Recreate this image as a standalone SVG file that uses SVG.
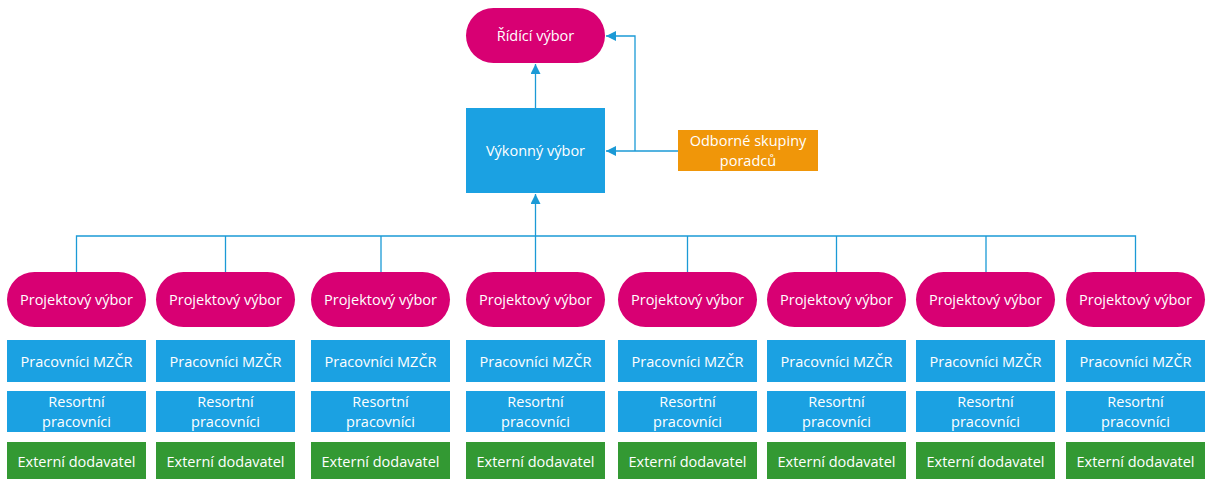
<svg xmlns="http://www.w3.org/2000/svg" width="1208" height="480" viewBox="0 0 1208 480">
<style>
.pill{fill:#D80073}
.blue{fill:#1BA1E2}
.green{fill:#339933}
.orange{fill:#F09609}
text{font-family:"Open Sans","Noto Sans","DejaVu Sans",sans-serif;font-size:14.5px;fill:#fff;text-anchor:middle;dominant-baseline:central}
.conn{stroke:#1B9AD6;stroke-width:1.3;fill:none}
</style>
<defs>
<marker id="arr" viewBox="0 0 10 10" refX="10" refY="5" markerWidth="10" markerHeight="10" markerUnits="userSpaceOnUse" orient="auto">
<path d="M0,0 L10,5 L0,10 Z" fill="#1B9AD6"/>
</marker>
</defs>
<g id="connectors">
<path class="conn" d="M535.5,108 V64" marker-end="url(#arr)"/>
<path class="conn" d="M678,151 H606" marker-end="url(#arr)"/>
<path class="conn" d="M635,151 V36 H606" marker-end="url(#arr)"/>
<path class="conn" d="M535.5,236 V194" marker-end="url(#arr)"/>
<path class="conn" d="M76.5,272 V236 H1135.5 V272"/>
<path class="conn" d="M225.5,236 V272 M381,236 V272 M535.5,236 V272 M687.5,236 V272 M836.5,236 V272 M986,236 V272"/>
</g>
<g id="ridici"><rect class="pill" x="466" y="8" width="139" height="55" rx="27.5"/><text x="535.5" y="35.5">Řídící výbor</text></g>
<g id="vykonny"><rect class="blue" x="466" y="108" width="139" height="85"/><text x="535.5" y="150.5">Výkonný výbor</text></g>
<g id="odborne"><rect class="orange" x="678" y="130" width="140" height="41"/><text x="748" y="140.5">Odborné skupiny</text><text x="748" y="160.5">poradců</text></g>
<g id="col1" transform="translate(7,0)">
<g id="pv1"><rect class="pill" x="0" y="272" width="139" height="55" rx="27.5"/><text x="69.5" y="299.5">Projektový výbor</text></g>
<g id="mz1"><rect class="blue" x="0" y="340" width="139" height="42"/><text x="69.5" y="361">Pracovníci MZČR</text></g>
<g id="rp1"><rect class="blue" x="0" y="391" width="139" height="41"/><text x="69.5" y="401.5">Resortní</text><text x="69.5" y="421.5">pracovníci</text></g>
<g id="ed1"><rect class="green" x="0" y="442" width="139" height="37"/><text x="69.5" y="461">Externí dodavatel</text></g>
</g>
<g id="col2" transform="translate(156,0)">
<g id="pv2"><rect class="pill" x="0" y="272" width="139" height="55" rx="27.5"/><text x="69.5" y="299.5">Projektový výbor</text></g>
<g id="mz2"><rect class="blue" x="0" y="340" width="139" height="42"/><text x="69.5" y="361">Pracovníci MZČR</text></g>
<g id="rp2"><rect class="blue" x="0" y="391" width="139" height="41"/><text x="69.5" y="401.5">Resortní</text><text x="69.5" y="421.5">pracovníci</text></g>
<g id="ed2"><rect class="green" x="0" y="442" width="139" height="37"/><text x="69.5" y="461">Externí dodavatel</text></g>
</g>
<g id="col3" transform="translate(311,0)">
<g id="pv3"><rect class="pill" x="0" y="272" width="139" height="55" rx="27.5"/><text x="69.5" y="299.5">Projektový výbor</text></g>
<g id="mz3"><rect class="blue" x="0" y="340" width="139" height="42"/><text x="69.5" y="361">Pracovníci MZČR</text></g>
<g id="rp3"><rect class="blue" x="0" y="391" width="139" height="41"/><text x="69.5" y="401.5">Resortní</text><text x="69.5" y="421.5">pracovníci</text></g>
<g id="ed3"><rect class="green" x="0" y="442" width="139" height="37"/><text x="69.5" y="461">Externí dodavatel</text></g>
</g>
<g id="col4" transform="translate(466,0)">
<g id="pv4"><rect class="pill" x="0" y="272" width="139" height="55" rx="27.5"/><text x="69.5" y="299.5">Projektový výbor</text></g>
<g id="mz4"><rect class="blue" x="0" y="340" width="139" height="42"/><text x="69.5" y="361">Pracovníci MZČR</text></g>
<g id="rp4"><rect class="blue" x="0" y="391" width="139" height="41"/><text x="69.5" y="401.5">Resortní</text><text x="69.5" y="421.5">pracovníci</text></g>
<g id="ed4"><rect class="green" x="0" y="442" width="139" height="37"/><text x="69.5" y="461">Externí dodavatel</text></g>
</g>
<g id="col5" transform="translate(618,0)">
<g id="pv5"><rect class="pill" x="0" y="272" width="139" height="55" rx="27.5"/><text x="69.5" y="299.5">Projektový výbor</text></g>
<g id="mz5"><rect class="blue" x="0" y="340" width="139" height="42"/><text x="69.5" y="361">Pracovníci MZČR</text></g>
<g id="rp5"><rect class="blue" x="0" y="391" width="139" height="41"/><text x="69.5" y="401.5">Resortní</text><text x="69.5" y="421.5">pracovníci</text></g>
<g id="ed5"><rect class="green" x="0" y="442" width="139" height="37"/><text x="69.5" y="461">Externí dodavatel</text></g>
</g>
<g id="col6" transform="translate(767,0)">
<g id="pv6"><rect class="pill" x="0" y="272" width="139" height="55" rx="27.5"/><text x="69.5" y="299.5">Projektový výbor</text></g>
<g id="mz6"><rect class="blue" x="0" y="340" width="139" height="42"/><text x="69.5" y="361">Pracovníci MZČR</text></g>
<g id="rp6"><rect class="blue" x="0" y="391" width="139" height="41"/><text x="69.5" y="401.5">Resortní</text><text x="69.5" y="421.5">pracovníci</text></g>
<g id="ed6"><rect class="green" x="0" y="442" width="139" height="37"/><text x="69.5" y="461">Externí dodavatel</text></g>
</g>
<g id="col7" transform="translate(916,0)">
<g id="pv7"><rect class="pill" x="0" y="272" width="139" height="55" rx="27.5"/><text x="69.5" y="299.5">Projektový výbor</text></g>
<g id="mz7"><rect class="blue" x="0" y="340" width="139" height="42"/><text x="69.5" y="361">Pracovníci MZČR</text></g>
<g id="rp7"><rect class="blue" x="0" y="391" width="139" height="41"/><text x="69.5" y="401.5">Resortní</text><text x="69.5" y="421.5">pracovníci</text></g>
<g id="ed7"><rect class="green" x="0" y="442" width="139" height="37"/><text x="69.5" y="461">Externí dodavatel</text></g>
</g>
<g id="col8" transform="translate(1066,0)">
<g id="pv8"><rect class="pill" x="0" y="272" width="139" height="55" rx="27.5"/><text x="69.5" y="299.5">Projektový výbor</text></g>
<g id="mz8"><rect class="blue" x="0" y="340" width="139" height="42"/><text x="69.5" y="361">Pracovníci MZČR</text></g>
<g id="rp8"><rect class="blue" x="0" y="391" width="139" height="41"/><text x="69.5" y="401.5">Resortní</text><text x="69.5" y="421.5">pracovníci</text></g>
<g id="ed8"><rect class="green" x="0" y="442" width="139" height="37"/><text x="69.5" y="461">Externí dodavatel</text></g>
</g>
</svg>
